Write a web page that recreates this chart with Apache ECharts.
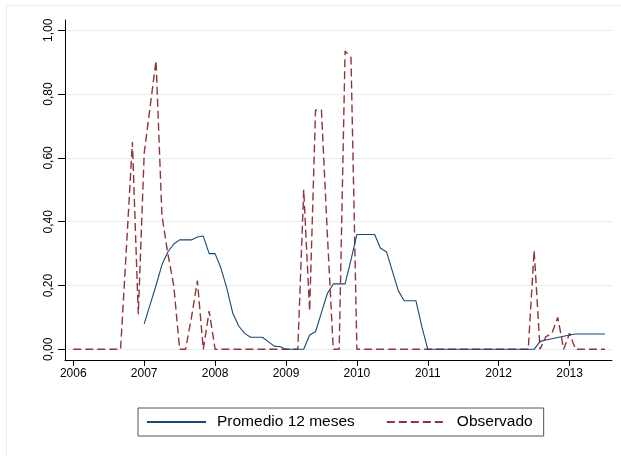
<!DOCTYPE html>
<html>
<head>
<meta charset="utf-8">
<script src="https://cdn.jsdelivr.net/npm/echarts@6/dist/echarts.min.js"></script>
<style>
  html, body { margin: 0; padding: 0; background: #ffffff; }
  #chart { width: 621px; height: 456px; }
</style>
</head>
<body>
<div id="chart"></div>
<script>
// Monthly series, first value is January 2006
const startYear = 2006;

// Observed monthly value
const observado = [
  0, 0, 0, 0, 0, 0, 0, 0, 0, 0.32, 0.65, 0.11,          // 2006
  0.615, 0.76, 0.905, 0.42, 0.30, 0.20, 0, 0, 0.10, 0.215, 0, 0.12, // 2007
  0, 0, 0, 0, 0, 0, 0, 0, 0, 0, 0, 0,                   // 2008
  0, 0, 0, 0.50, 0.12, 0.75, 0.75, 0.36, 0, 0, 0.935, 0.915, // 2009
  0, 0, 0, 0, 0, 0, 0, 0, 0, 0, 0, 0,                   // 2010
  0, 0, 0, 0, 0, 0, 0, 0, 0, 0, 0, 0,                   // 2011
  0, 0, 0, 0, 0, 0, 0.31, 0, 0.04, 0.05, 0.10, 0,       // 2012
  0.05, 0, 0, 0, 0, 0, 0                                // 2013
];

// 12-month average (no value during 2006)
const promedio = [
  null, null, null, null, null, null, null, null, null, null, null, null,
  0.08, 0.14, 0.20, 0.265, 0.305, 0.33, 0.343, 0.343, 0.343, 0.352, 0.355, 0.30,
  0.30, 0.254, 0.19, 0.113, 0.073, 0.05, 0.038, 0.038, 0.038, 0.024, 0.01, 0.008,
  0, 0, 0, 0, 0.045, 0.055, 0.115, 0.175, 0.205, 0.205, 0.205, 0.28,
  0.36, 0.36, 0.36, 0.36, 0.317, 0.306, 0.245, 0.184, 0.152, 0.152, 0.152, 0.07,
  0, 0, 0, 0, 0, 0, 0, 0, 0, 0, 0, 0,
  0, 0, 0, 0, 0, 0, 0, 0.025, 0.029, 0.033, 0.037, 0.041,
  0.045, 0.048, 0.048, 0.048, 0.048, 0.048, 0.048
];

// Axis ticks
const yearTicks = [2006, 2007, 2008, 2009, 2010, 2011, 2012, 2013];
const valueTicks = [0, 0.2, 0.4, 0.6, 0.8, 1.0];

const seriesNames = ['Promedio 12 meses', 'Observado'];

const toPairs = arr => arr.map((v, i) => [startYear + i / 12, v]);

const chart = echarts.init(document.getElementById('chart'), null, { renderer: 'canvas' });

const FONT = '"Liberation Sans", Arial, Helvetica, sans-serif';

chart.setOption({
  backgroundColor: '#ffffff',
  animation: false,
  graphic: [{
    type: 'rect',
    shape: { x: 6.5, y: 5.5, width: 700, height: 500 },
    style: { fill: 'none', stroke: '#e8eef0', lineWidth: 1 },
    silent: true,
    z: -10
  }],
  grid: { left: 65, right: 9, top: 20, bottom: 96, containLabel: false },
  xAxis: {
    type: 'value',
    min: 2005.883,
    max: 2013.598,
    axisLine: { show: true, onZero: false, lineStyle: { color: '#000', width: 1 } },
    axisTick: { show: true, length: 6, customValues: yearTicks, lineStyle: { color: '#000' } },
    axisLabel: {
      customValues: yearTicks,
      margin: 8,
      color: '#000',
      fontFamily: FONT,
      fontSize: 12,
      formatter: v => String(Math.round(v))
    },
    splitLine: { show: false }
  },
  yAxis: {
    type: 'value',
    min: -0.0335,
    max: 1.0323,
    axisLine: { show: true, onZero: false, lineStyle: { color: '#000', width: 1 } },
    axisTick: { show: true, length: 7, customValues: valueTicks, lineStyle: { color: '#000' } },
    axisLabel: {
      customValues: valueTicks,
      rotate: 90,
      margin: 10,
      color: '#000',
      fontFamily: FONT,
      fontSize: 12,
      formatter: v => v.toFixed(2).replace('.', ',')
    },
    splitLine: { show: true, lineStyle: { color: '#e6eeef', width: 1 } }
  },
  legend: {
    left: 138,
    top: 408,
    orient: 'horizontal',
    data: seriesNames,
    itemWidth: 59,
    itemHeight: 14,
    itemGap: 31,
    padding: [6, 11, 6, 8],
    borderColor: '#555',
    borderWidth: 1,
    borderRadius: 0,
    itemStyle: { color: 'transparent', borderWidth: 0 },
    textStyle: { color: '#000', fontFamily: FONT, fontSize: 15.5, padding: [0, 0, 0, 6] }
  },
  series: [
    {
      name: seriesNames[0],
      type: 'line',
      data: toPairs(promedio),
      symbol: 'none',
      showSymbol: false,
      connectNulls: false,
      lineStyle: { color: '#1a476f', width: 1.1 },
      itemStyle: { color: '#1a476f' },
      z: 3
    },
    {
      name: seriesNames[1],
      type: 'line',
      data: toPairs(observado),
      symbol: 'none',
      showSymbol: false,
      lineStyle: { color: '#90353b', width: 1.4, type: [8, 4] },
      itemStyle: { color: '#90353b' },
      z: 2
    }
  ]
});
</script>
</body>
</html>
